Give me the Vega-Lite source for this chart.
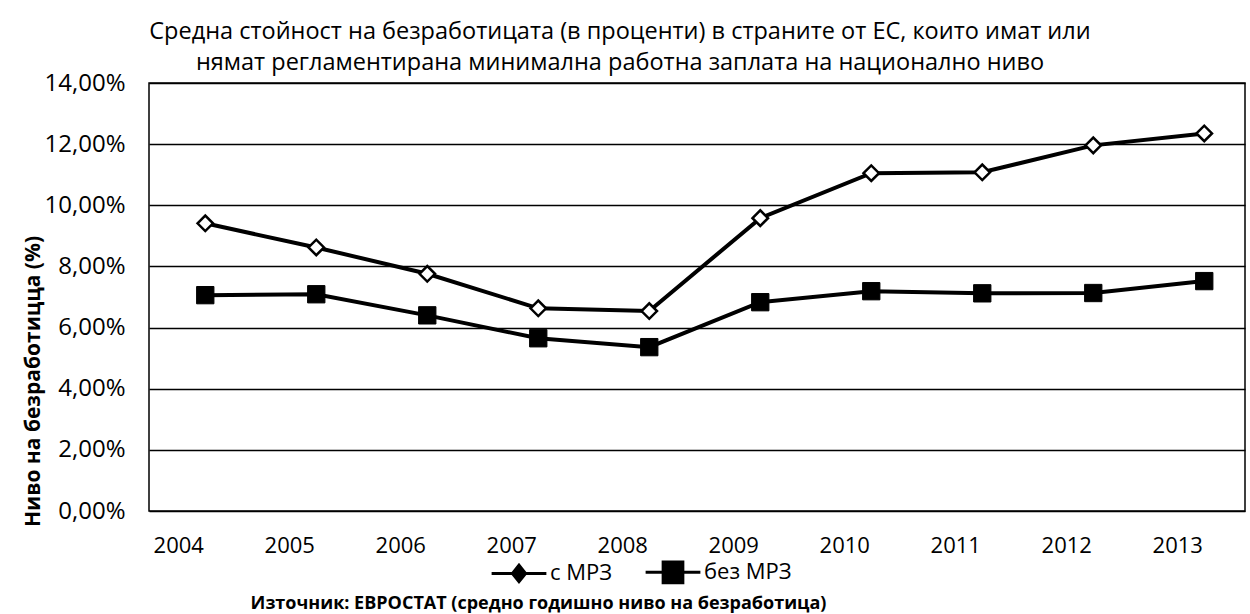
{
  "$schema": "https://vega.github.io/schema/vega-lite/v6.json",
  "autosize": {"type": "none"},
  "padding": {"left": 149, "top": 83, "right": 5, "bottom": 103},
  "width": 1096,
  "height": 428,
  "background": "white",
  "config": {
    "font": "Open Sans",
    "view": {"stroke": "black", "strokeWidth": 1.5}
  },
  "title": {
    "text": ["Средна стойност на безработицата (в проценти) в страните от ЕС, които имат или", "нямат регламентирана минимална работна заплата на национално ниво"],
    "fontSize": 23.5,
    "fontWeight": "normal",
    "lineHeight": 31,
    "anchor": "middle",
    "dx": -77,
    "offset": -3,
    "color": "black"
  },
  "data": {
    "values": [
      {"year": "2004", "series": "с МРЗ", "value": 0.0941},
      {"year": "2005", "series": "с МРЗ", "value": 0.0862},
      {"year": "2006", "series": "с МРЗ", "value": 0.0776},
      {"year": "2007", "series": "с МРЗ", "value": 0.0663},
      {"year": "2008", "series": "с МРЗ", "value": 0.0654},
      {"year": "2009", "series": "с МРЗ", "value": 0.0958},
      {"year": "2010", "series": "с МРЗ", "value": 0.1105},
      {"year": "2011", "series": "с МРЗ", "value": 0.1108},
      {"year": "2012", "series": "с МРЗ", "value": 0.1196},
      {"year": "2013", "series": "с МРЗ", "value": 0.1235},
      {"year": "2004", "series": "без МРЗ", "value": 0.0706},
      {"year": "2005", "series": "без МРЗ", "value": 0.0709},
      {"year": "2006", "series": "без МРЗ", "value": 0.064},
      {"year": "2007", "series": "без МРЗ", "value": 0.0565},
      {"year": "2008", "series": "без МРЗ", "value": 0.0536},
      {"year": "2009", "series": "без МРЗ", "value": 0.0683},
      {"year": "2010", "series": "без МРЗ", "value": 0.0719},
      {"year": "2011", "series": "без МРЗ", "value": 0.0712},
      {"year": "2012", "series": "без МРЗ", "value": 0.0713},
      {"year": "2013", "series": "без МРЗ", "value": 0.0752}
    ]
  },
  "encoding": {
    "x": {
      "field": "year", "type": "ordinal",
      "scale": {"type": "point", "padding": 0.437, "align": 0.58},
      "axis": {
        "title": "Източник: ЕВРОСТАТ (средно годишно ниво на безработица)",
        "titleFontSize": 18, "titleFontWeight": "bold", "titleColor": "black",
        "titleX": 389, "titleY": 92, "titleBaseline": "middle", "titleAlign": "center",
        "labelAngle": 0, "labelFontSize": 22, "labelColor": "black", "labelOffset": -27, "labelPadding": 24,
        "ticks": false, "domain": false, "grid": false
      }
    },
    "y": {
      "field": "value", "type": "quantitative",
      "scale": {"domain": [0, 0.14], "nice": false},
      "axis": {
        "values": [0, 0.02, 0.04, 0.06, 0.08, 0.1, 0.12, 0.14],
        "labelExpr": "replace(format(datum.value, '.2%'), '.', ',')",
        "labelFontSize": 24, "labelColor": "black", "labelPadding": 24,
        "ticks": false, "domain": false,
        "grid": true, "gridColor": "black", "gridWidth": 1.5, "gridOpacity": 1,
        "title": "Ниво на безработицца (%)",
        "titleFontSize": 21, "titleFontWeight": "bold", "titleColor": "black",
        "titleX": -116, "titleY": 298, "titleAlign": "center", "titleBaseline": "middle", "titleAngle": -90
      }
    }
  },
  "layer": [
    {
      "mark": {"type": "line", "strokeWidth": 4},
      "encoding": {
        "color": {
          "field": "series", "type": "nominal",
          "scale": {"domain": ["с МРЗ", "без МРЗ"], "range": ["black", "black"]},
          "legend": {
            "title": null,
            "orient": "none",
            "direction": "horizontal",
            "legendX": 341,
            "legendY": 460,
            "labelFontSize": 22,
            "labelColor": "black",
            "labelOffset": 2,
            "columnPadding": 26,
            "symbolSize": 3000,
            "symbolStrokeWidth": 3,
            "encode": {
              "symbols": {
                "update": {
                  "shape": {"signal": "datum.value === 'с МРЗ' ? 'M-1,0H1M0,-0.3L0.24,0L0,0.3L-0.24,0Z' : 'M-1,0H1M-0.36,-0.38H0.36V0.38H-0.36Z'"},
                  "fill": {"value": "black"},
                  "stroke": {"value": "black"},
                  "strokeWidth": {"value": 3}
                }
              }
            }
          }
        }
      }
    },
    {
      "transform": [{"filter": "datum.series === 'с МРЗ'"}],
      "mark": {"type": "point", "shape": "diamond", "filled": true, "fill": "white", "stroke": "black", "strokeWidth": 2.5, "size": 240, "opacity": 1}
    },
    {
      "transform": [{"filter": "datum.series === 'без МРЗ'"}],
      "mark": {"type": "point", "shape": "square", "filled": true, "fill": "black", "stroke": "black", "strokeWidth": 1, "size": 300, "opacity": 1}
    }
  ]
}
